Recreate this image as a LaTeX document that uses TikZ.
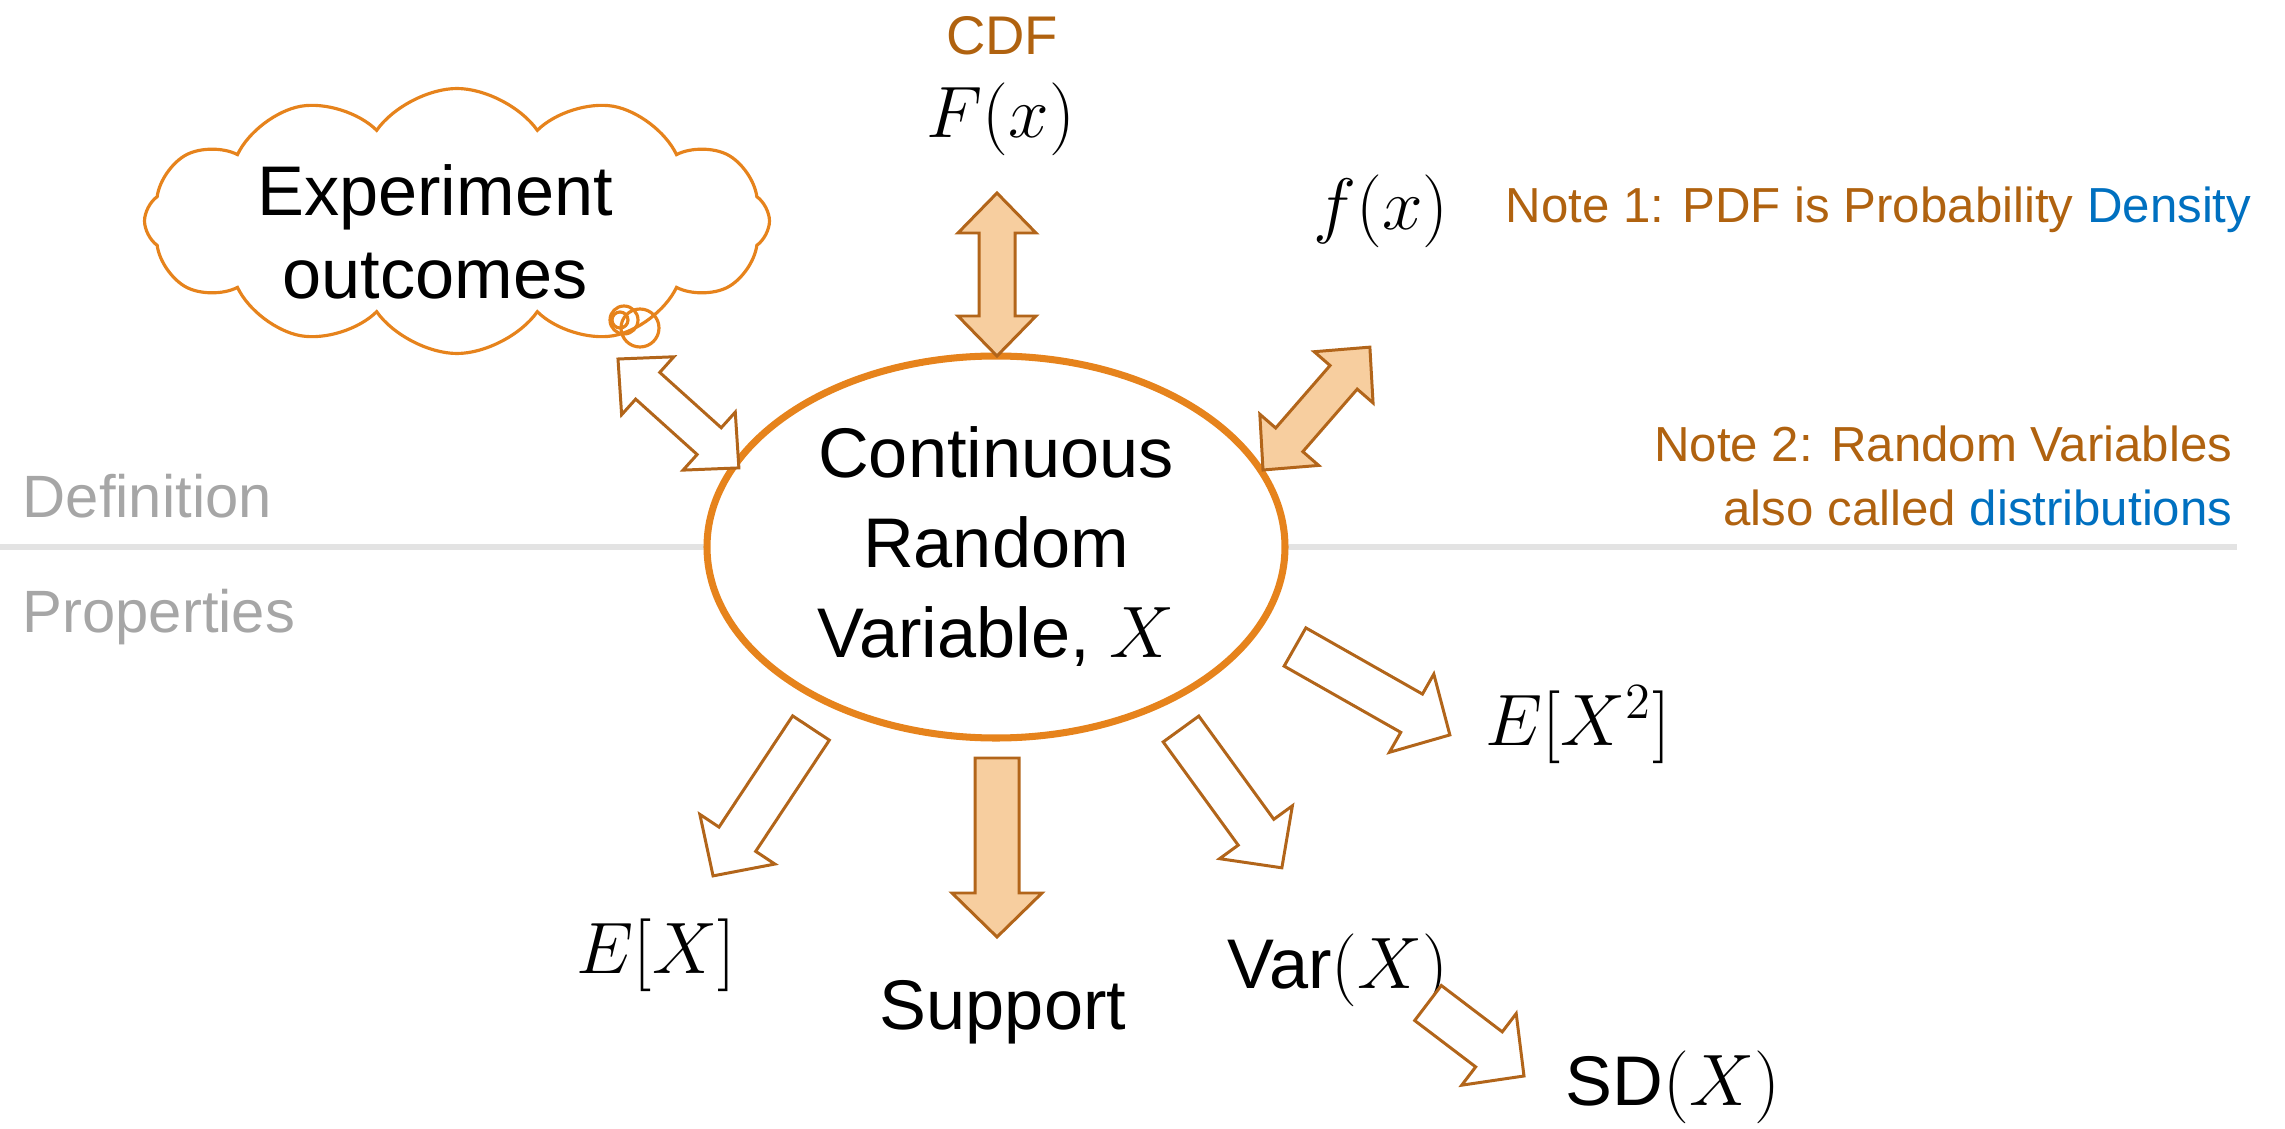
\documentclass[tikz,border=0pt]{standalone}
\usepackage{fontspec}
\setmainfont{Liberation Sans}
\usepackage{tikz}
\usetikzlibrary{calc,shapes.geometric,shapes.symbols}

\definecolor{ellorange}{HTML}{E6831C}
\definecolor{arrowbrown}{HTML}{B2651A}
\definecolor{arrowfill}{HTML}{F7CE9F}
\definecolor{notebrown}{HTML}{B0620F}
\definecolor{noteblue}{HTML}{0070C0}
\definecolor{sidegray}{HTML}{A6A6A6}
\definecolor{linegray}{HTML}{E3E3E3}

% block arrow with one head, from tail #2 to tip #3
\newcommand{\onearrow}[3]{%
  \path let \p1=($(#3)-(#2)$) in
    \pgfextra{\pgfmathsetmacro{\arrang}{atan2(\y1,\x1)}\xdef\arrang{\arrang}%
              \pgfmathsetmacro{\arrlen}{veclen(\x1,\y1)}\xdef\arrlen{\arrlen}};
  \draw[#1, shift={(#2)}, rotate=\arrang]
    (0cm,-0.22cm) -- ({\arrlen pt-0.44cm},-0.22cm) -- ({\arrlen pt-0.44cm},-0.45cm)
    -- (\arrlen pt,0cm) -- ({\arrlen pt-0.44cm},0.45cm) -- ({\arrlen pt-0.44cm},0.22cm)
    -- (0cm,0.22cm) -- cycle;
}
% block arrow with two heads
\newcommand{\twoarrow}[3]{%
  \path let \p1=($(#3)-(#2)$) in
    \pgfextra{\pgfmathsetmacro{\arrang}{atan2(\y1,\x1)}\xdef\arrang{\arrang}%
              \pgfmathsetmacro{\arrlen}{veclen(\x1,\y1)}\xdef\arrlen{\arrlen}};
  \draw[#1, shift={(#2)}, rotate=\arrang]
    (0cm,0cm) -- (0.4cm,0.39cm) -- (0.4cm,0.18cm) -- ({\arrlen pt-0.4cm},0.18cm)
    -- ({\arrlen pt-0.4cm},0.39cm) -- (\arrlen pt,0cm) -- ({\arrlen pt-0.4cm},-0.39cm)
    -- ({\arrlen pt-0.4cm},-0.18cm) -- (0.4cm,-0.18cm) -- (0.4cm,-0.39cm) -- cycle;
}

\begin{document}
\begin{tikzpicture}
\tikzstyle{bigtext}=[font=\fontsize{20}{25.6}\selectfont, inner sep=0pt]
\tikzstyle{notetext}=[font=\fontsize{14}{18}\selectfont, text=notebrown, inner sep=0pt]
\tikzstyle{sidetext}=[font=\fontsize{17}{20}\selectfont, text=sidegray, inner sep=0pt]
\tikzstyle{fatarrow}=[draw=arrowbrown, line width=0.85pt, fill=arrowfill, line join=miter]
\tikzstyle{hollowarrow}=[draw=arrowbrown, line width=0.85pt, fill=white, line join=miter]
\tikzstyle{cloudline}=[draw=ellorange, line width=0.9pt]
\useasboundingbox (0,0) rectangle (22.85,-11.29);

% divider
\coordinate (sepL) at (0,-5.47);
\coordinate (sepR) at (22.37,-5.47);
\draw[linegray, line width=1.7pt] (sepL) -- (sepR);
\node[sidetext, anchor=base west] (def) at (0.22,-5.18) {Definition};
\node[sidetext, anchor=base west] (prop) at (0.22,-6.32) {Properties};

% centre
\node[ellipse, draw=ellorange, fill=white, line width=2pt, minimum width=5.78cm,
    minimum height=3.82cm, inner sep=0pt, align=center, bigtext] (crv) at (9.96,-5.47)
    {Continuous\\Random\\Variable, $X$};

% experiment cloud
\node[cloud, cloudline, cloud puffs=12, cloud puff arc=110, aspect=2.4,
    minimum width=6.25cm, minimum height=2.65cm] (cloud) at (4.57,-2.21) {};
\node[bigtext, align=center, font=\fontsize{20}{23.5}\selectfont] (exper) at (4.35,-2.32)
    {Experiment\\outcomes};
\draw[cloudline] (6.20,-3.20) circle (0.08);
\draw[cloudline] (6.24,-3.20) circle (0.14);
\draw[cloudline] (6.40,-3.28) circle (0.19);

% definition side
\node[notetext, anchor=base, font=\fontsize{15.5}{18}\selectfont] (cdf) at (10.02,-0.55) {CDF};
\node[bigtext, anchor=base] (Fx) at (10.01,-1.38) {$F(x)$};
\node[bigtext, anchor=base] (fx) at (13.81,-2.30) {$f(x)$};
\node[notetext, anchor=base east] (note1) at (22.52,-2.23)
    {Note 1: PDF is Probability \textcolor{noteblue}{Density}};
\node[notetext, anchor=east, align=right] (note2) at (22.33,-4.76)
    {Note 2: Random Variables\\also called \textcolor{noteblue}{distributions}};

% property side
\node[bigtext, anchor=base] (EX) at (6.56,-9.73) {$E[X]$};
\node[bigtext, anchor=base] (supp) at (10.03,-10.29) {Support};
\node[bigtext, anchor=base] (var) at (13.38,-9.88) {Var$(X)$};
\node[bigtext, anchor=base] (EX2) at (15.78,-7.45) {$E[X^2]$};
\node[bigtext, anchor=base] (SD) at (16.73,-11.05) {SD$(X)$};

% arrow ends
\coordinate (Fa) at (9.97,-1.93);   \coordinate (Fb) at (9.97,-3.56);
\coordinate (fa) at (12.63,-4.70);  \coordinate (fb) at (13.70,-3.47);
\coordinate (ca) at (6.18,-3.59);   \coordinate (cb) at (7.39,-4.68);
\coordinate (x2a) at (12.95,-6.47); \coordinate (x2b) at (14.50,-7.35);
\coordinate (va) at (11.81,-7.29);  \coordinate (vb) at (12.82,-8.68);
\coordinate (sa) at (14.28,-10.03); \coordinate (sb) at (15.24,-10.76);
\coordinate (ea) at (8.11,-7.28);   \coordinate (eb) at (7.13,-8.76);
\coordinate (ua) at (9.97,-7.58);   \coordinate (ub) at (9.97,-9.37);

\twoarrow{fatarrow}{Fa}{Fb}
\twoarrow{fatarrow}{fa}{fb}
\twoarrow{hollowarrow}{ca}{cb}
\onearrow{hollowarrow}{x2a}{x2b}
\onearrow{hollowarrow}{va}{vb}
\onearrow{hollowarrow}{sa}{sb}
\onearrow{hollowarrow}{ea}{eb}
\onearrow{fatarrow}{ua}{ub}
\end{tikzpicture}
\end{document}
